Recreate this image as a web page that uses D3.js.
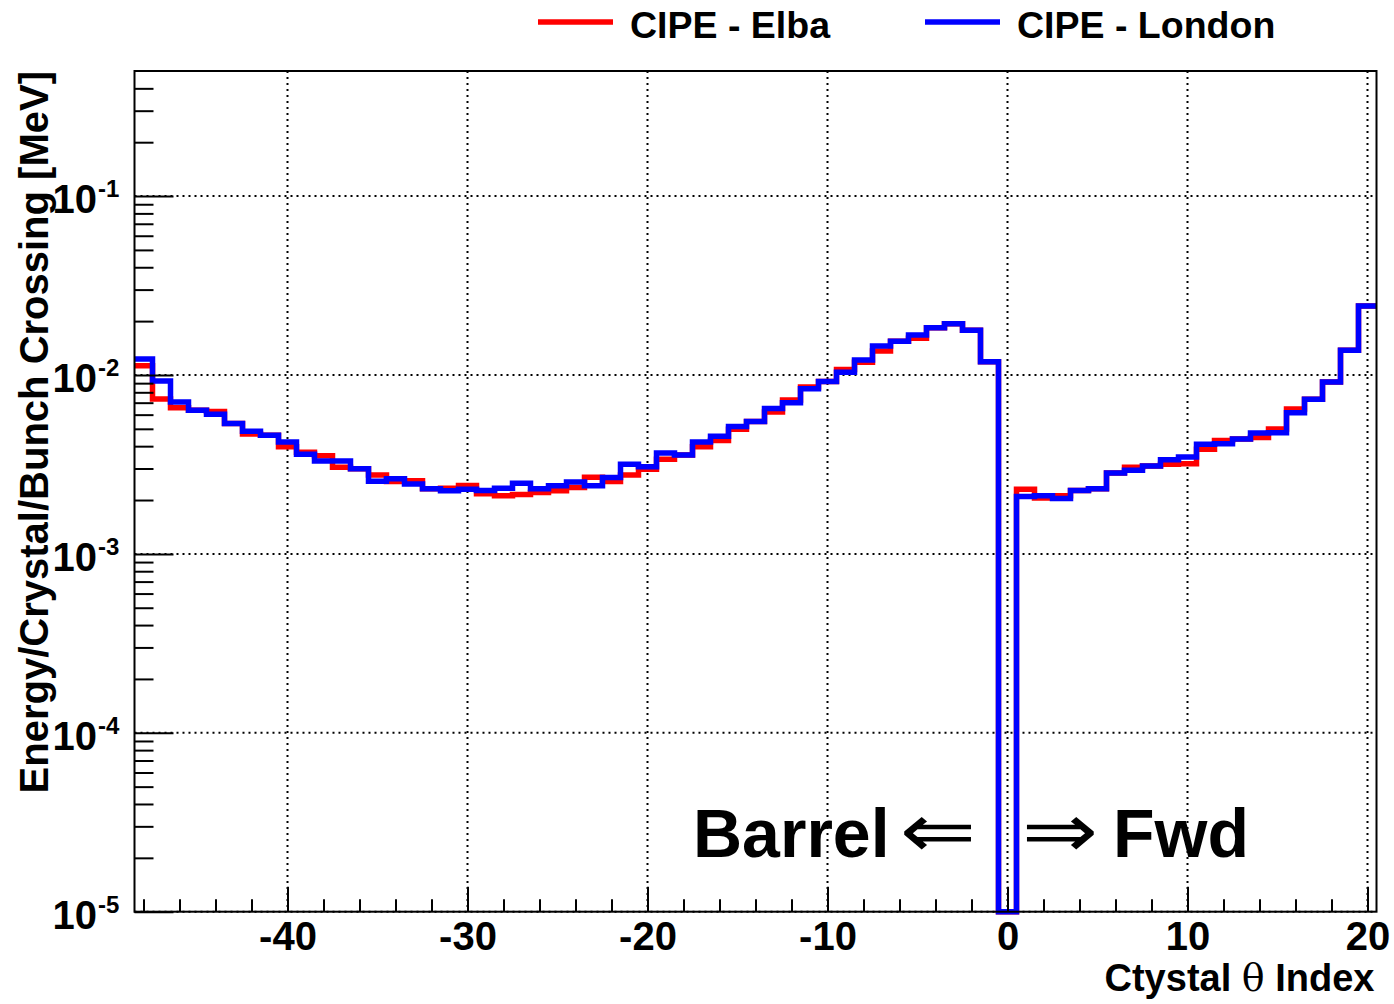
<!DOCTYPE html>
<html>
<head>
<meta charset="utf-8">
<script src="https://cdn.jsdelivr.net/npm/d3@7"></script>
<style>
  html, body { margin: 0; padding: 0; background: #fff; }
  svg { display: block; }
  text { font-family: "Liberation Sans", Arial, Helvetica, sans-serif; font-weight: bold; fill: #000; }
</style>
</head>
<body>
<svg id="chart" width="1394" height="1004"></svg>
<script>
// Crystal theta index (bin centres)
const thetaIndex = [-48,-47,-46,-45,-44,-43,-42,-41,-40,-39,-38,-37,-36,-35,-34,-33,-32,-31,-30,-29,
  -28,-27,-26,-25,-24,-23,-22,-21,-20,-19,-18,-17,-16,-15,-14,-13,-12,-11,-10,-9,-8,-7,-6,-5,-4,-3,-2,-1,
  0,1,2,3,4,5,6,7,8,9,10,11,12,13,14,15,16,17,18,19,20];

// CIPE - Elba (red)
const elbaValues = [0.01127,0.00735,0.00655,0.00635,0.00624,0.00535,0.00468,0.00460,0.00397,0.00370,
  0.00354,0.00305,0.00299,0.00276,0.00254,0.00256,0.00231,0.00233,0.00241,0.00217,
  0.00211,0.00215,0.00220,0.00225,0.00235,0.00268,0.00254,0.00276,0.00297,0.00338,
  0.00357,0.00397,0.00430,0.00498,0.00549,0.00621,0.00724,0.00857,0.00918,0.01072,
  0.01178,0.01361,0.01542,0.01603,0.01837,0.01936,0.01778,0.01186,
  0,0.00230,0.00205,0.00211,0.00226,0.00231,0.00283,0.00305,0.00310,0.00317,0.00319,
  0.00385,0.00430,0.00438,0.00447,0.00499,0.00646,0.00731,0.00914,0.01374,0.02432];

// CIPE - London (blue)
const londonValues = [0.01230,0.00924,0.00706,0.00635,0.00603,0.00535,0.00484,0.00460,0.00422,0.00361,
  0.00330,0.00330,0.00299,0.00255,0.00263,0.00246,0.00231,0.00225,0.00230,0.00226,
  0.00233,0.00248,0.00231,0.00240,0.00252,0.00240,0.00267,0.00317,0.00307,0.00366,
  0.00357,0.00422,0.00454,0.00516,0.00549,0.00649,0.00700,0.00838,0.00918,0.01035,
  0.01213,0.01452,0.01542,0.01675,0.01837,0.01936,0.01778,0.01186,
  0,0.00209,0.00211,0.00204,0.00226,0.00231,0.00283,0.00293,0.00310,0.00336,0.00348,
  0.00410,0.00412,0.00438,0.00474,0.00475,0.00615,0.00731,0.00914,0.01374,0.02432];

const xMajorTicks = [-40,-30,-20,-10,0,10,20];
const xMinorTicks = [-48,-46,-44,-42,-38,-36,-34,-32,-28,-26,-24,-22,-18,-16,-14,-12,-8,-6,-4,-2,2,4,6,8,12,14,16,18];
const yDecadeExponents = [-5,-4,-3,-2,-1];
const yMinorMultipliers = [2,3,4,5,6,7,8,9];

const seriesNames = ["CIPE - Elba", "CIPE - London"];
const seriesColors = ["#ff0000", "#0000ff"];

const svg = d3.select("#chart");
const W = 1394, H = 1004;
const frame = {left: 134.5, right: 1376.5, top: 71, bottom: 911.7};
const yMin = 1e-5, yMax = 0.5;

svg.append("rect").attr("width", W).attr("height", H).attr("fill", "#fff");

const x = d3.scaleLinear().domain([-48.5, 20.5]).range([frame.left, frame.right]);
const y = d3.scaleLog().domain([yMin, yMax]).range([frame.bottom, frame.top]);

// grid
const grid = svg.append("g").attr("stroke", "#000").attr("stroke-width", 2)
  .attr("stroke-dasharray", "2 4").attr("fill", "none");
xMajorTicks.forEach(v => {
  grid.append("line").attr("x1", x(v)).attr("x2", x(v)).attr("y1", frame.top).attr("y2", frame.bottom);
});
yDecadeExponents.forEach(e => {
  grid.append("line").attr("x1", frame.left).attr("x2", frame.right).attr("y1", y(Math.pow(10, e))).attr("y2", y(Math.pow(10, e)));
});

// histograms
function stepPoints(vals) {
  const pts = [];
  thetaIndex.forEach((c, i) => {
    const v = Math.max(vals[i], yMin);
    pts.push([c - 0.5, v]);
    pts.push([c + 0.5, v]);
  });
  return pts;
}
const line = d3.line().x(d => x(d[0])).y(d => y(d[1]));
[elbaValues, londonValues].forEach((vals, i) => {
  svg.append("path").attr("d", line(stepPoints(vals)))
    .attr("fill", "none").attr("stroke", seriesColors[i]).attr("stroke-width", 5.5)
    .attr("stroke-linejoin", "miter").attr("stroke-linecap", "butt");
});

// axes (ticks inward)
const xMinorAxis = d3.axisBottom(x).tickValues(xMinorTicks).tickSize(-12.5).tickFormat("");
const xMajorAxis = d3.axisBottom(x).tickValues(xMajorTicks).tickSize(-25).tickPadding(10)
  .tickFormat(d => d3.format("d")(d).replace("−", "-"));
const gxMin = svg.append("g").attr("transform", `translate(0,${frame.bottom})`).call(xMinorAxis);
const gxMaj = svg.append("g").attr("transform", `translate(0,${frame.bottom})`).call(xMajorAxis);
[gxMin, gxMaj].forEach(g => {
  g.select(".domain").remove();
  g.selectAll(".tick line").attr("stroke", "#000").attr("stroke-width", 2);
});
gxMaj.selectAll(".tick text").style("font-family", "'Liberation Sans', Arial, sans-serif")
  .style("font-weight", "bold").style("font-size", "40px").attr("fill", "#000");

const yMinorVals = [];
yDecadeExponents.forEach(e => yMinorMultipliers.forEach(m => {
  const v = m * Math.pow(10, e);
  if (v < yMax) yMinorVals.push(v);
}));
const yMajorVals = yDecadeExponents.map(e => Math.pow(10, e));
const yMinorAxis = d3.axisLeft(y).tickValues(yMinorVals).tickSize(-19).tickFormat("");
const yMajorAxis = d3.axisLeft(y).tickValues(yMajorVals).tickSize(-39).tickFormat("");
[yMinorAxis, yMajorAxis].forEach(ax => {
  const g = svg.append("g").attr("transform", `translate(${frame.left},0)`).call(ax);
  g.select(".domain").remove();
  g.selectAll(".tick line").attr("stroke", "#000").attr("stroke-width", 2);
});

// y tick labels 10^n
yDecadeExponents.forEach(e => {
  const yy = y(Math.pow(10, e));
  svg.append("text").attr("x", 97).attr("y", yy + 17).attr("text-anchor", "end")
    .style("font-size", "40px").text("10");
  svg.append("text").attr("x", 98).attr("y", yy + 1).attr("text-anchor", "start")
    .style("font-size", "24px").text("-" + Math.abs(e));
});

// frame
svg.append("rect").attr("x", frame.left).attr("y", frame.top)
  .attr("width", frame.right - frame.left).attr("height", frame.bottom - frame.top)
  .attr("fill", "none").attr("stroke", "#000").attr("stroke-width", 2);

// axis titles
svg.append("text").attr("transform", `translate(48,${frame.top}) rotate(-90)`)
  .attr("text-anchor", "end").style("font-size", "40px")
  .text("Energy/Crystal/Bunch Crossing [MeV]");

const xt = svg.append("text").attr("x", frame.right - 2).attr("y", 991).attr("text-anchor", "end")
  .style("font-size", "38px");
xt.append("tspan").text("Ctystal ");
xt.append("tspan").style("font-weight", "normal").style("font-family", "'DejaVu Serif', serif").text("θ");
xt.append("tspan").text(" Index");

// annotations
svg.append("text").attr("x", 693).attr("y", 857).style("font-size", "68px").text("Barrel");
svg.append("text").attr("transform", "translate(938,857) scale(1.2,1)").attr("text-anchor", "middle")
  .style("font-family", "'DejaVu Sans', sans-serif").style("font-weight", "normal")
  .style("font-size", "76px").text("⇐");
svg.append("text").attr("transform", "translate(1060,857) scale(1.2,1)").attr("text-anchor", "middle")
  .style("font-family", "'DejaVu Sans', sans-serif").style("font-weight", "normal")
  .style("font-size", "76px").text("⇒");
svg.append("text").attr("x", 1113).attr("y", 857).style("font-size", "68px").text("Fwd");

// legend
const legendX = [538, 925];
seriesNames.forEach((name, i) => {
  svg.append("line").attr("x1", legendX[i]).attr("x2", legendX[i] + 75)
    .attr("y1", 22).attr("y2", 22).attr("stroke", seriesColors[i]).attr("stroke-width", 5.5);
  svg.append("text").attr("x", legendX[i] + 92).attr("y", 38).style("font-size", "37.5px").text(name);
});
</script>
</body>
</html>
